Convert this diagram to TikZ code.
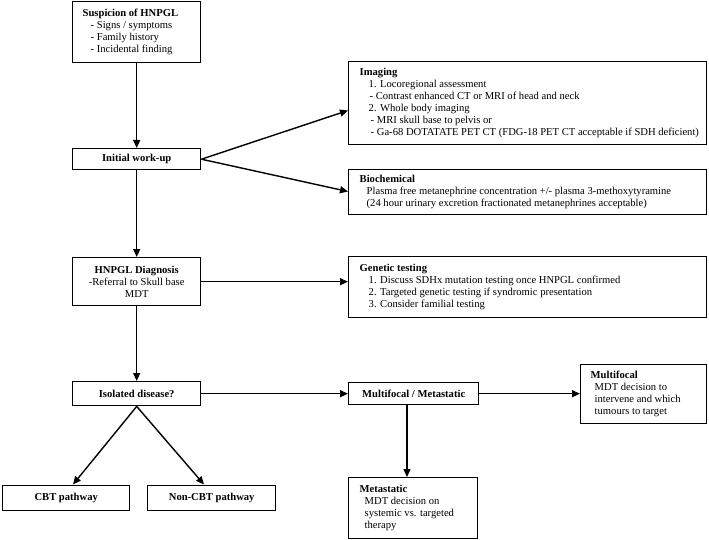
\documentclass[tikz,border=0pt]{standalone}
\usepackage{fontspec}
\setmainfont{Liberation Serif}
\usetikzlibrary{arrows.meta}
\newcommand\lbox[3]{\makebox[#1][l]{\hspace*{#2}\begin{tabular}{@{}l@{}}#3\end{tabular}}}
\newcommand\ind[1]{\hspace*{#1}}
\begin{document}
\begin{tikzpicture}[x=1pt,y=-1pt,
  box/.style={draw, line width=1.4pt, inner sep=0pt, anchor=north west,
    font=\fontsize{10.6}{12}\selectfont},
  cbox/.style={box, align=center, font=\fontsize{10.6}{12}\selectfont\bfseries},
  arr/.style={-{Triangle[length=8pt,width=7pt]}, line width=1.4pt}]
\useasboundingbox (0,0) rectangle (709,540);

\node[box, minimum width=128pt, minimum height=61pt] (susp) at (72,1)
  {\lbox{128pt}{10pt}{\textbf{Suspicion of HNPGL}\\
   \ind{8pt}- Signs / symptoms\\
   \ind{8pt}- Family history\\
   \ind{8pt}- Incidental finding}};

\node[cbox, minimum width=128pt, minimum height=21pt] (init) at (72,148) {Initial work-up};

\node[box, minimum width=358pt, minimum height=83pt] (img) at (348,61)
  {\lbox{358pt}{11pt}{\textbf{Imaging}\\
   \ind{9pt}1. Locoregional assessment\\
   \ind{10pt}- Contrast enhanced CT or MRI of head and neck\\
   \ind{9pt}2. Whole body imaging\\
   \ind{11pt}- MRI skull base to pelvis or\\
   \ind{11pt}- Ga-68 DOTATATE PET CT (FDG-18 PET CT acceptable if SDH deficient)}};

\node[box, minimum width=358pt, minimum height=45pt] (bio) at (348,169)
  {\lbox{358pt}{11pt}{\textbf{Biochemical}\\
   \ind{7pt}Plasma free metanephrine concentration +/- plasma 3-methoxytyramine\\
   \ind{7pt}(24 hour urinary excretion fractionated metanephrines acceptable)}};

\node[cbox, minimum width=128pt, minimum height=48pt] (diag) at (72,257)
  {HNPGL Diagnosis\\ \mdseries -Referral to Skull base\\ \mdseries MDT};

\node[box, minimum width=358pt, minimum height=61pt] (gen) at (348,256)
  {\lbox{358pt}{11pt}{\textbf{Genetic testing}\\
   \ind{9pt}1. Discuss SDHx mutation testing once HNPGL confirmed\\
   \ind{9pt}2. Targeted genetic testing if syndromic presentation\\
   \ind{9pt}3. Consider familial testing}};

\node[cbox, minimum width=128pt, minimum height=24pt] (iso) at (72,381) {Isolated disease?};

\node[cbox, minimum width=130pt, minimum height=22pt] (mm) at (348,382) {Multifocal / Metastatic};

\node[box, minimum width=126pt, minimum height=59pt] (multi) at (580,364)
  {\lbox{126pt}{10pt}{\textbf{Multifocal}\\
   \ind{4pt}MDT decision to\\
   \ind{4pt}intervene and which\\
   \ind{4pt}tumours to target}};

\node[box, minimum width=129pt, minimum height=61pt] (meta) at (348,477)
  {\lbox{129pt}{11pt}{\textbf{Metastatic}\\
   \ind{5pt}MDT decision on\\
   \ind{5pt}systemic vs. targeted\\
   \ind{5pt}therapy}};

\node[cbox, minimum width=127pt, minimum height=25pt] (cbt) at (2,484.5) {CBT pathway};
\node[cbox, minimum width=128pt, minimum height=25pt] (ncbt) at (147,484.5) {Non-CBT pathway};

\draw[arr] (susp.south) -- (init.north);
\draw[arr] (init.east) -- (img.west |- 0,110.5);
\draw[arr] (init.east) -- (bio.west |- 0,191.5);
\draw[arr] (init.south) -- (diag.north);
\draw[arr] (diag.east) -- (gen.west |- diag.east);
\draw[arr] (diag.south) -- (iso.north);
\draw[arr] (iso.east) -- (mm.west |- iso.east);
\draw[arr] (iso.south) -- (cbt.north -| 73,0);
\draw[arr] (iso.south) -- (ncbt.north -| 204,0);
\draw[arr] (mm.east) -- (multi.west |- mm.east);
\draw[arr] (mm.south -| 407,0) -- (meta.north -| 407,0);
\end{tikzpicture}
\end{document}
